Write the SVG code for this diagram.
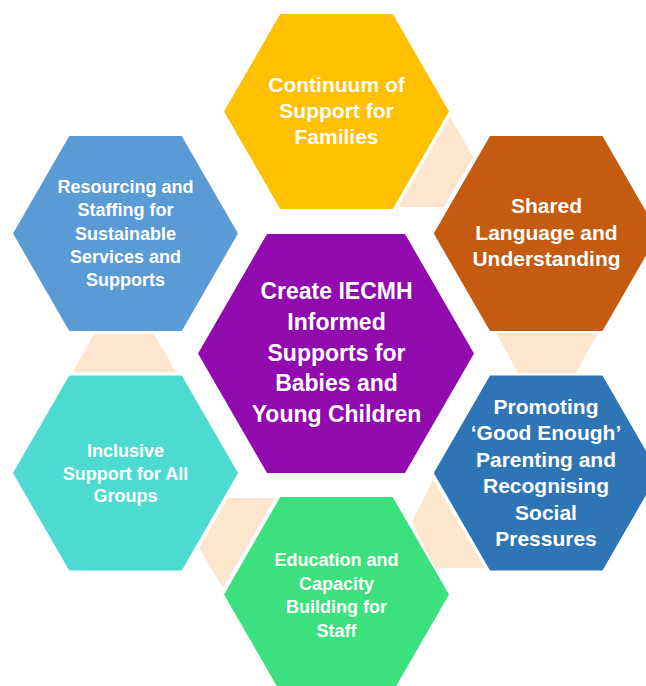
<svg xmlns="http://www.w3.org/2000/svg" width="646" height="686" viewBox="0 0 646 686">
  <style>
    .conn { fill: #FDE6CD; stroke: none; }
    .hex { stroke: none; }
    text { font-family: "Liberation Sans", Arial, sans-serif; font-weight: bold; fill: #FFFFFF; text-anchor: middle; }
    .t21 { font-size: 21px; }
    .t18 { font-size: 18px; }
    .t23 { font-size: 23px; }
  </style>
  <rect width="646" height="686" fill="#FFFFFF"/>
  <g id="connectors">
    <polygon class="conn" points="450,117 473,157 444,207 398,207"/>
    <polygon class="conn" points="496,333 598,333 576,373 518,373"/>
    <polygon class="conn" points="433,480 485,568 435,568 412,522"/>
    <polygon class="conn" points="228,498 275,498 223,588 199,548"/>
    <polygon class="conn" points="94,334 154,334 176,372 73,372"/>
  </g>
  <g id="node-continuum">
    <polygon class="hex" fill="#FFC000" points="224,111.5 280.25,14 392.75,14 449,111.5 392.75,209 280.25,209"/>
    <text class="t21" x="336.5" y="92">Continuum of</text>
    <text class="t21" x="336.5" y="118">Support for</text>
    <text class="t21" x="336.5" y="144">Families</text>
  </g>
  <g id="node-shared-language">
    <polygon class="hex" fill="#C55A11" points="433.75,233.5 490,136 602.5,136 658.75,233.5 602.5,331 490,331"/>
    <text class="t21" x="546.5" y="213">Shared</text>
    <text class="t21" x="546.5" y="239.5">Language and</text>
    <text class="t21" x="546.5" y="266">Understanding</text>
  </g>
  <g id="node-promoting">
    <polygon class="hex" fill="#2E75B6" points="433.75,473 490,375.5 602.5,375.5 658.75,473 602.5,570.5 490,570.5"/>
    <text class="t21" x="546" y="414">Promoting</text>
    <text class="t21" x="546" y="440.4">‘Good Enough’</text>
    <text class="t21" x="546" y="466.8">Parenting and</text>
    <text class="t21" x="546" y="493.2">Recognising</text>
    <text class="t21" x="546" y="519.6">Social</text>
    <text class="t21" x="546" y="546">Pressures</text>
  </g>
  <g id="node-education">
    <polygon class="hex" fill="#3CE07E" points="224,594.5 280.25,497 392.75,497 449,594.5 392.75,692 280.25,692"/>
    <text class="t18" x="336.5" y="566">Education and</text>
    <text class="t18" x="336.5" y="589.5">Capacity</text>
    <text class="t18" x="336.5" y="613">Building for</text>
    <text class="t18" x="336.5" y="636.5">Staff</text>
  </g>
  <g id="node-inclusive">
    <polygon class="hex" fill="#4DDBD1" points="13,473 69.25,375.5 181.75,375.5 238,473 181.75,570.5 69.25,570.5"/>
    <text class="t18" x="125.5" y="457">Inclusive</text>
    <text class="t18" x="125.5" y="479.5">Support for All</text>
    <text class="t18" x="125.5" y="502">Groups</text>
  </g>
  <g id="node-resourcing">
    <polygon class="hex" fill="#5B9BD5" points="13,233.5 69.25,136 181.75,136 238,233.5 181.75,331 69.25,331"/>
    <text class="t18" x="125.5" y="193">Resourcing and</text>
    <text class="t18" x="125.5" y="216">Staffing for</text>
    <text class="t18" x="125.5" y="239.5">Sustainable</text>
    <text class="t18" x="125.5" y="263">Services and</text>
    <text class="t18" x="125.5" y="286">Supports</text>
  </g>
  <g id="node-center">
    <polygon class="hex" fill="#900AAE" points="198,353.5 267,234 405,234 474,353.5 405,473 267,473"/>
    <text class="t23" x="336.5" y="299">Create IECMH</text>
    <text class="t23" x="336.5" y="329.75">Informed</text>
    <text class="t23" x="336.5" y="360.5">Supports for</text>
    <text class="t23" x="336.5" y="391.25">Babies and</text>
    <text class="t23" x="336.5" y="422">Young Children</text>
  </g>
</svg>
